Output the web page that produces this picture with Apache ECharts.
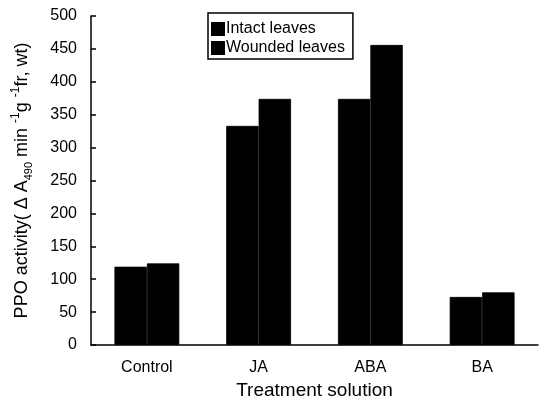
<!DOCTYPE html>
<html>
<head>
<meta charset="utf-8">
<script src="https://cdn.jsdelivr.net/npm/echarts@6/dist/echarts.min.js"></script>
<style>html,body{margin:0;padding:0;background:#fff;}#c{width:546px;height:400px;}</style>
</head>
<body>
<div id="c"></div>
<script>
var categories = ['Control', 'JA', 'ABA', 'BA'];
var intactLeaves = [119, 333, 374, 73];
var woundedLeaves = [124, 374, 456, 80];
var seriesNames = ['Intact leaves', 'Wounded leaves'];

var chart = echarts.init(document.getElementById('c'), null, {renderer: 'canvas'});
var FONT = '"Liberation Sans", Arial, sans-serif';
chart.setOption({
  animation: false,
  backgroundColor: '#fff',
  textStyle: {fontFamily: FONT, color: '#000'},
  grid: {left: 91, right: 8, top: 16, bottom: 55, containLabel: false, outerBoundsMode: 'none'},
  legend: {
    data: seriesNames,
    orient: 'vertical',
    left: 208, top: 13,
    padding: [8, 8, 3, 3],
    itemGap: 3,
    itemWidth: 12, itemHeight: 12,
    icon: 'rect',
    borderColor: '#000', borderWidth: 1.5,
    textStyle: {fontFamily: FONT, fontSize: 16, color: '#000', padding: [0, 0, 0, -3]}
  },
  xAxis: {
    type: 'category',
    data: categories,
    boundaryGap: true,
    name: 'Treatment solution',
    nameLocation: 'middle',
    nameGap: 36,
    nameTextStyle: {fontFamily: FONT, fontSize: 19, color: '#000'},
    axisLine: {lineStyle: {color: '#000', width: 1.5}},
    axisTick: {inside: true, length: 5, alignWithLabel: false, lineStyle: {color: '#000', width: 1.5}},
    axisLabel: {fontFamily: FONT, fontSize: 16, color: '#000', margin: 15}
  },
  yAxis: {
    type: 'value',
    min: 0, max: 500, interval: 50,
    name: '{n|PPO activity( Δ A}{sub|490}{n| min }{sup|-1}{n|g }{sup|-1}{n|fr, wt)}',
    nameLocation: 'middle',
    nameGap: 57,
    nameRotate: 90,
    nameTextStyle: {
      fontFamily: FONT, fontSize: 18, color: '#000',
      rich: {
        n: {fontFamily: FONT, fontSize: 18, color: '#000', lineHeight: 24},
        sub: {fontFamily: FONT, fontSize: 11, color: '#000', lineHeight: 24, verticalAlign: 'bottom', padding: [7, 0, 0, 0]},
        sup: {fontFamily: FONT, fontSize: 12, color: '#000', lineHeight: 24, verticalAlign: 'top', padding: [0, 0, 7, 0]}
      }
    },
    splitLine: {show: false},
    axisLine: {show: true, lineStyle: {color: '#000', width: 1.5}},
    axisTick: {show: true, inside: true, length: 5, lineStyle: {color: '#000', width: 1.5}},
    axisLabel: {fontFamily: FONT, fontSize: 16, color: '#000', margin: 14}
  },
  series: [
    {name: seriesNames[0], type: 'bar', data: intactLeaves, barGap: '0%', barCategoryGap: '42%',
     itemStyle: {color: '#000', borderColor: '#000', borderWidth: 0.8}},
    {name: seriesNames[1], type: 'bar', data: woundedLeaves, barGap: '0%', barCategoryGap: '42%',
     itemStyle: {color: '#000', borderColor: '#000', borderWidth: 0.8}}
  ]
});
</script>
</body>
</html>
